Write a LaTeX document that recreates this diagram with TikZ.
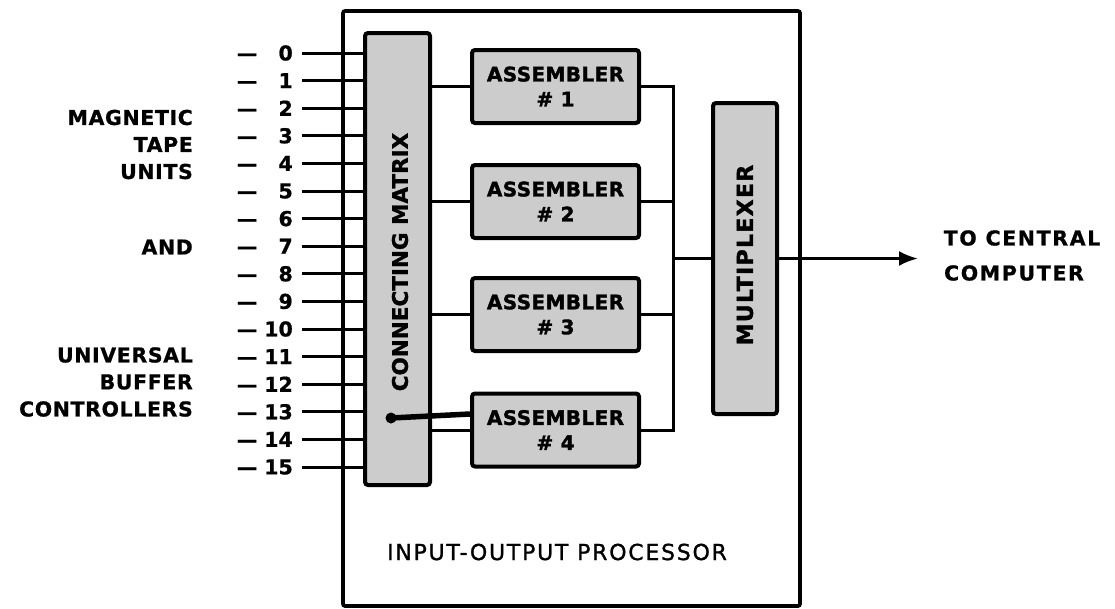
\documentclass[tikz,border=0pt]{standalone}
\usepackage{fontspec}
\setmainfont{DejaVu Sans}
\newfontfamily\bLab[LetterSpace=3,FakeBold=0.8]{DejaVu Sans Bold}
\newfontfamily\bOut[LetterSpace=8,FakeBold=0.8]{DejaVu Sans Bold}
\newfontfamily\bAsm[LetterSpace=2,FakeBold=1.6]{DejaVu Sans Bold}
\newfontfamily\bMux[LetterSpace=6,FakeBold=1.4]{DejaVu Sans Bold}
\newfontfamily\bMtx[LetterSpace=0,FakeBold=1.2]{DejaVu Sans Bold}
\newfontfamily\bNum[FakeBold=0.8]{DejaVu Sans Bold}
\newfontfamily\rIop[LetterSpace=8,FakeBold=1.2]{DejaVu Sans}
\usetikzlibrary{arrows.meta}
\tikzset{
  blk/.style={draw, line width=4pt, fill=black!20, rounded corners=3pt, inner sep=0pt},
  wire/.style={line width=3pt},
  lab/.style={font=\bLab\fontsize{20.5}{22}\selectfont, inner sep=0pt},
  outlab/.style={font=\bOut\fontsize{20.5}{22}\selectfont, inner sep=0pt},
  num/.style={font=\bNum\fontsize{20.5}{22}\selectfont, inner sep=0pt, anchor=east},
  asm/.style={blk, minimum width=167pt, minimum height=73pt, align=center,
     font=\bAsm\fontsize{20}{25}\selectfont},
}
\begin{document}
\begin{tikzpicture}[x=1pt,y=-1pt]
\useasboundingbox (0,0) rectangle (1115,608);
% outer box
\node[draw, line width=3.6pt, rounded corners=2pt, minimum width=457pt, minimum height=595pt, inner sep=0pt] (iop) at (571.5,308.5) {};
\node[font=\rIop\fontsize{22}{24}\selectfont, inner sep=0pt] (ioplab) at (557,552) {INPUT-OUTPUT PROCESSOR};
% connecting matrix
\node[blk, minimum width=65pt, minimum height=452pt] (mtx) at (397.5,259) {};
\node[rotate=90, font=\bMtx\fontsize{21.5}{22}\selectfont, inner sep=0pt] (mtxlab) at (400,262) {CONNECTING MATRIX};
% assemblers
\node[asm] (a1) at (555.5,86.5) {ASSEMBLER\\\# 1};
\node[asm] (a2) at (555.5,201.5) {ASSEMBLER\\\# 2};
\node[asm] (a3) at (555.5,314.5) {ASSEMBLER\\\# 3};
\node[asm] (a4) at (555.5,430) {ASSEMBLER\\\# 4};
% multiplexer
\node[blk, minimum width=64pt, minimum height=311pt] (mux) at (745,258.5) {};
\node[rotate=90, font=\bMux\fontsize{22}{24}\selectfont, inner sep=0pt] (muxlab) at (745,255) {MULTIPLEXER};
% inputs
\foreach \i in {0,...,15}{
  \node[num] (n\i) at (293,{53+\i*27.6}) {\makebox[56pt][l]{\textemdash}\llap{\i}};
  \draw[wire] ([xshift=9pt]n\i.east) -- (n\i.east -| mtx.west);
}
% matrix to assemblers
\draw[wire] (mtx.east |- a1.west) -- (a1.west);
\draw[wire] (mtx.east |- a2.west) -- (a2.west);
\draw[wire] (mtx.east |- a3.west) -- (a3.west);
\draw[wire] (mtx.east |- a4.west) -- (a4.west);
% bus
\coordinate (bx) at (673,0);
\draw[wire] (a1.east) -- (a1.east -| bx) -- (a4.east -| bx) -- (a4.east);
\draw[wire] (a2.east) -- (a2.east -| bx);
\draw[wire] (a3.east) -- (a3.east -| bx);
\draw[wire] (mux.west -| bx) -- (mux.west);
% output
\coordinate (tip) at (918,258.5);
\draw[wire, -{Latex[length=19pt,width=15pt]}] (mux.east) -- (tip);
\node[outlab] (tc1) at (1022,238) {TO CENTRAL};
\node[outlab] (tc2) at (1014,273) {COMPUTER};
% smudge connection
\coordinate (sm) at (391,418);
\fill (sm) circle (5.5pt);
\draw[line width=5.5pt, line cap=round] (sm) -- ([yshift=16pt]a4.west);
% left labels
\node[lab, anchor=east] (l1) at (193,117.5) {MAGNETIC};
\node[lab, anchor=east] (l2) at (193,144.5) {TAPE};
\node[lab, anchor=east] (l3) at (193,171.5) {UNITS};
\node[lab, anchor=east] (l4) at (193,247) {AND};
\node[lab, anchor=east] (l5) at (193,355) {UNIVERSAL};
\node[lab, anchor=east] (l6) at (193,382) {BUFFER};
\node[lab, anchor=east] (l7) at (193,409) {CONTROLLERS};
\end{tikzpicture}
\end{document}
